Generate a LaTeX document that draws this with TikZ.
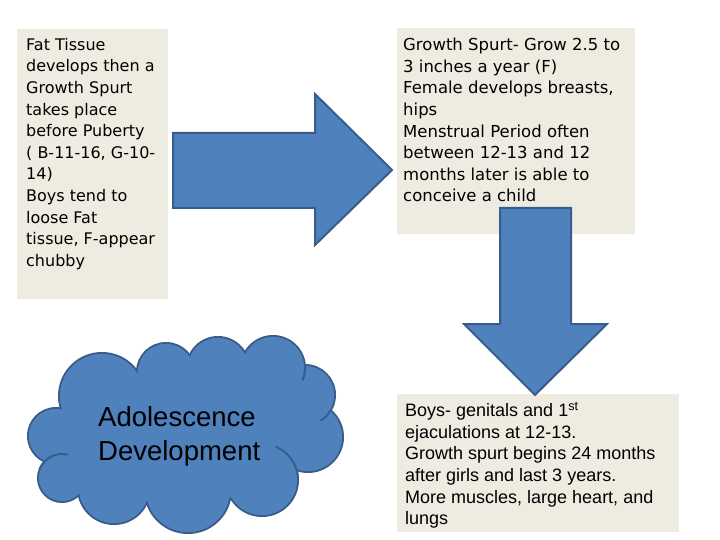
\documentclass[tikz,border=0pt]{standalone}
\usepackage{fontspec}
\setmainfont{Liberation Sans}
\newfontfamily\handfont{DejaVu Sans}

\definecolor{boxtan}{HTML}{EEECE1}
\definecolor{puffblue}{HTML}{4F81BD}
\definecolor{puffedge}{HTML}{385D8A}

\tikzset{
  notebox/.style={fill=boxtan, draw=none},
  handtext/.style={anchor=north west, inner sep=0pt, align=left,
    font=\handfont\fontsize{16}{21.6}\selectfont},
  plaintext/.style={anchor=north west, inner sep=0pt, align=left,
    font=\fontsize{18}{21.6}\selectfont},
  blockarrow/.style={fill=puffblue, draw=puffedge, line width=2pt, line join=miter},
  puffline/.style={draw=puffedge, line width=2pt, line cap=round},
}
% puffs of the cloud: centre x / centre y / radius
\newcommand\puffs{56/436/28, 62/478/24, 114/488/36, 188/490/43, 262/480/36,
  308/437/35, 305/395/30, 273/368/32, 218/368/31, 166/372/29, 102/396/43}

\begin{document}
\begin{tikzpicture}[x=1pt,y=-1pt]
  \useasboundingbox[fill=white] (0,0) rectangle (720,540);
  % text boxes
  \fill[notebox] (17,29) rectangle (168,299);
  \fill[notebox] (397,28) rectangle (635,234);
  \fill[notebox] (397,394) rectangle (679,532);
  \node[handtext] (fat) at (26,38) {Fat Tissue\\develops then a\\Growth Spurt\\takes place\\before Puberty\\( B-11-16, G-10-\\14)\\Boys tend to\\loose Fat\\tissue, F-appear\\chubby};
  \node[handtext, font=\handfont\fontsize{16.5}{21.6}\selectfont] (spurt) at (403,38) {Growth Spurt- Grow 2.5 to\\3 inches a year (F)\\Female develops breasts,\\hips\\Menstrual Period often\\between 12-13 and 12\\months later is able to\\conceive a child};
  \node[plaintext] (boys) at (405,402) {Boys- genitals and 1\textsuperscript{st}\\ejaculations at 12-13.\\Growth spurt begins 24 months\\after girls and last 3 years.\\More muscles, large heart, and\\lungs};
  % block arrows
  \draw[blockarrow] (173,133) -- (315,133) -- (315,94) -- (392,170)
    -- (315,245) -- (315,208) -- (173,208) -- cycle;
  \draw[blockarrow] (500,208) -- (571,208) -- (571,324) -- (607,324)
    -- (535,395) -- (464,324) -- (500,324) -- cycle;
  % cloud: outlined puffs, then filled again to keep only the outer rim
  \foreach \cx/\cy/\r in \puffs
    \draw[puffline, fill=puffblue] (\cx,\cy) circle (\r);
  \foreach \cx/\cy/\r in \puffs
    \fill[puffblue] (\cx,\cy) circle (\r-1);
  \fill[puffblue] (185,436) ellipse (130 and 65);
  % inner strokes of the cloud
  \draw[puffline] (39.7,469) .. controls (44.1,458.2) and (55.6,452.1) .. (67,454.5);
  \draw[puffline] (276.1,446.9) .. controls (287.7,451.8) and (295.9,462.5) .. (297.7,475);
  \draw[puffline] (330.7,410.5) .. controls (328.3,414.6) and (324.9,417.9) .. (320.9,420.4);
  \draw[puffline] (304.9,365.2) .. controls (305.3,370.2) and (304.6,375.3) .. (302.7,380);
  \node[anchor=west, align=left, inner sep=0pt,
    font=\fontsize{27.5}{34}\selectfont] (title) at (98,436) {Adolescence\\Development};
\end{tikzpicture}
\end{document}
